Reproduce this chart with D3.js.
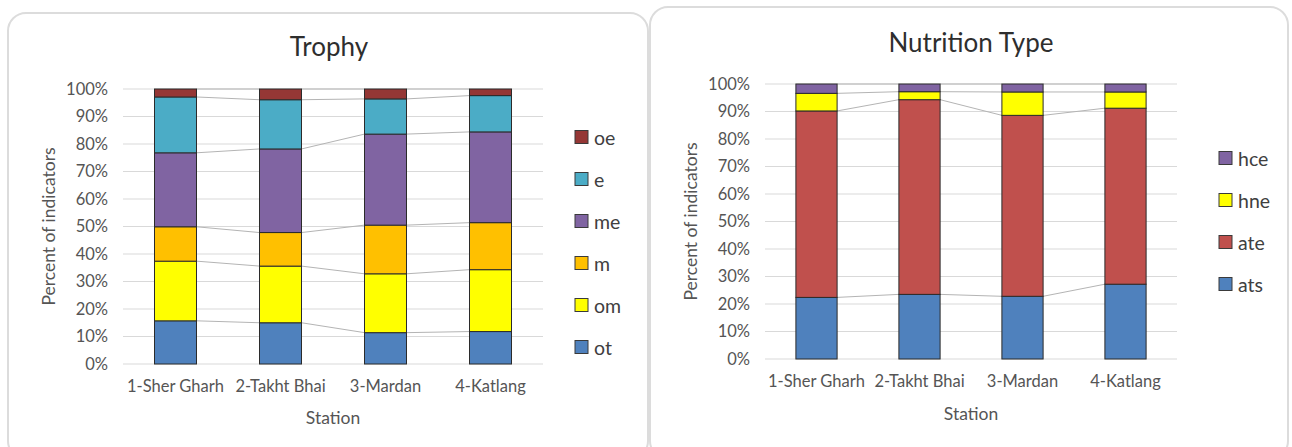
<!DOCTYPE html>
<html>
<head>
<meta charset="utf-8">
<script src="https://cdn.jsdelivr.net/npm/d3@7/dist/d3.min.js"></script>
<style>
  html, body { margin: 0; padding: 0; background: #ffffff; }
  svg { display: block; font-family: Lato, "Open Sans", sans-serif; }
</style>
</head>
<body>
<svg id="chart" width="1292" height="447"></svg>
<script>
// Stations shared by both panels
const stations = ["1-Sher Gharh", "2-Takht Bhai", "3-Mardan", "4-Katlang"];
const yTicks = [0, 10, 20, 30, 40, 50, 60, 70, 80, 90, 100];

// Trophy groups (percent of indicators per station)
const trophyKeys = ["ot", "om", "m", "me", "e", "oe"];
const ot = [15.7, 15.0, 11.4, 11.8];
const om = [21.7, 20.6, 21.4, 22.5];
const m  = [12.5, 12.2, 17.7, 17.1];
const me = [26.9, 30.4, 33.1, 33.0];
const e  = [20.3, 17.9, 12.8, 13.2];
const oe = [2.9, 3.9, 3.6, 2.4];

// Nutrition types (percent of indicators per station)
const nutritionKeys = ["ats", "ate", "hne", "hce"];
const ats = [22.4, 23.5, 22.8, 27.2];
const ate = [67.8, 70.8, 65.8, 64.0];
const hne = [6.4, 2.9, 8.5, 5.9];
const hce = [3.4, 2.8, 2.9, 2.9];

const trophySeries = { ot, om, m, me, e, oe };
const nutritionSeries = { ats, ate, hne, hce };

const trophyColors = { ot: "#4f81bd", om: "#ffff00", m: "#ffc000", me: "#8064a2", e: "#4bacc6", oe: "#953735" };
const nutritionColors = { ats: "#4f81bd", ate: "#c0504d", hne: "#ffff00", hce: "#8064a2" };

const svg = d3.select("#chart");

function rows(keys, series) {
  return stations.map((s, i) => {
    const r = { station: s };
    keys.forEach(k => { r[k] = series[k][i]; });
    return r;
  });
}

function drawPanel(cfg) {
  const g = svg.append("g");

  // panel frame
  g.append("rect")
    .attr("x", cfg.frame[0]).attr("y", cfg.frame[1])
    .attr("width", cfg.frame[2]).attr("height", cfg.frame[3])
    .attr("rx", 18).attr("ry", 18)
    .attr("fill", "#ffffff").attr("stroke", "#dcdcdc").attr("stroke-width", 2);

  const x = d3.scaleBand().domain(stations)
    .range([cfg.left, cfg.right]).paddingInner(0.6).paddingOuter(0.3);
  const y = d3.scaleLinear().domain([0, 100]).range([cfg.bottom, cfg.top]);

  // gridlines
  g.append("g").selectAll("line").data(yTicks).join("line")
    .attr("x1", cfg.left).attr("x2", cfg.right)
    .attr("y1", d => y(d)).attr("y2", d => y(d))
    .attr("stroke", "#d9d9d9").attr("stroke-width", 1);

  // y axis labels
  const ya = g.append("g").attr("transform", `translate(${cfg.left},0)`)
    .call(d3.axisLeft(y).tickValues(yTicks).tickSize(0).tickPadding(15).tickFormat(d => d + "%"));
  ya.select(".domain").remove();
  ya.selectAll("text").attr("font-size", 16.5).attr("fill", "#555555").attr("font-family", "Lato, sans-serif");

  // x axis labels
  const xa = g.append("g").attr("transform", `translate(0,${cfg.bottom})`)
    .call(d3.axisBottom(x).tickSize(0).tickPadding(16));
  xa.select(".domain").remove();
  xa.selectAll("text").attr("font-size", 16.5).attr("fill", "#555555").attr("font-family", "Lato, sans-serif");

  const stacked = d3.stack().keys(cfg.keys)(rows(cfg.keys, cfg.series));

  // series lines joining segment tops of neighbouring bars
  const sl = g.append("g");
  stacked.forEach(layer => {
    for (let i = 0; i < stations.length - 1; i++) {
      sl.append("line")
        .attr("x1", x(stations[i]) + x.bandwidth())
        .attr("x2", x(stations[i + 1]))
        .attr("y1", y(layer[i][1]))
        .attr("y2", y(layer[i + 1][1]))
        .attr("stroke", "#b4b4b4").attr("stroke-width", 1);
    }
  });

  // stacked bars
  g.append("g").selectAll("g").data(stacked).join("g")
    .attr("fill", d => cfg.colors[d.key])
    .selectAll("rect").data(d => d).join("rect")
    .attr("x", d => x(d.data.station))
    .attr("width", x.bandwidth())
    .attr("y", d => y(d[1]))
    .attr("height", d => y(d[0]) - y(d[1]))
    .attr("stroke", "#2b2b2b").attr("stroke-width", 1);

  // title
  g.append("text").attr("x", cfg.titleX).attr("y", cfg.titleY)
    .attr("text-anchor", "middle").attr("font-size", 26).attr("fill", "#2e2e2e")
    .text(cfg.title);

  // axis titles
  g.append("text")
    .attr("transform", `translate(${cfg.yTitleX},${(cfg.top + cfg.bottom) / 2}) rotate(-90)`)
    .attr("text-anchor", "middle").attr("dominant-baseline", "central")
    .attr("font-size", 17.5).attr("fill", "#555555")
    .text("Percent of indicators");
  g.append("text").attr("x", (cfg.left + cfg.right) / 2 - 0).attr("y", cfg.xTitleY)
    .attr("text-anchor", "middle").attr("dominant-baseline", "central")
    .attr("font-size", 17.5).attr("fill", "#555555")
    .text("Station");

  // legend, top entry is the last stacked key
  const legendKeys = cfg.keys.slice().reverse();
  const lg = g.append("g").selectAll("g").data(legendKeys).join("g")
    .attr("transform", (d, i) => `translate(${cfg.legendX},${cfg.legendY + i * 42})`);
  lg.append("rect").attr("x", 0).attr("y", -6.5).attr("width", 13).attr("height", 13)
    .attr("fill", d => cfg.colors[d]).attr("stroke", "#3a3a3a").attr("stroke-width", 1);
  lg.append("text").attr("x", 19).attr("y", 0).attr("dominant-baseline", "central")
    .attr("font-size", 19.5).attr("fill", "#404040").text(d => d);
}

drawPanel({
  frame: [8, 13, 640, 446],
  left: 123, right: 543, top: 89, bottom: 364,
  keys: trophyKeys, series: trophySeries, colors: trophyColors,
  title: "Trophy", titleX: 329, titleY: 56,
  yTitleX: 48, xTitleY: 417,
  legendX: 575, legendY: 137
});

drawPanel({
  frame: [650, 7, 638, 452],
  left: 765, right: 1177, top: 84, bottom: 359,
  keys: nutritionKeys, series: nutritionSeries, colors: nutritionColors,
  title: "Nutrition Type", titleX: 971, titleY: 52,
  yTitleX: 690, xTitleY: 413,
  legendX: 1219, legendY: 158
});
</script>
</body>
</html>
